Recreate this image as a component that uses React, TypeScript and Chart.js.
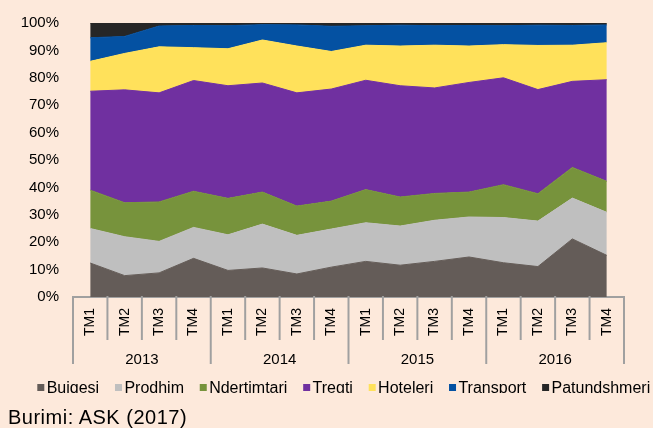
import React, { useEffect, useRef } from 'react';
import { Chart, registerables } from 'chart.js';

Chart.register(...registerables);

const categories = [
  'TM1', 'TM2', 'TM3', 'TM4',
  'TM1', 'TM2', 'TM3', 'TM4',
  'TM1', 'TM2', 'TM3', 'TM4',
  'TM1', 'TM2', 'TM3', 'TM4',
];
const years = ['2013', '2014', '2015', '2016'];
const yTicks = [0, 10, 20, 30, 40, 50, 60, 70, 80, 90, 100];

const bujqesi = [12.4, 7.8, 8.8, 14.1, 9.7, 10.6, 8.4, 10.9, 13.0, 11.6, 13.0, 14.6, 12.5, 11.1, 21.2, 15.2];
const prodhim = [12.6, 14.2, 11.5, 11.3, 13.0, 16.0, 14.1, 13.9, 14.1, 14.3, 15.0, 14.6, 16.5, 16.6, 14.9, 15.7];
const ndertimtari = [14.0, 12.4, 14.4, 13.2, 13.3, 11.7, 10.7, 10.2, 12.1, 10.6, 9.8, 9.1, 12.0, 10.0, 11.2, 11.3];
const tregti = [36.1, 41.2, 39.8, 40.4, 41.1, 39.8, 41.3, 40.9, 39.9, 40.6, 38.5, 40.0, 39.0, 38.0, 31.4, 37.1];
const hoteleri = [10.9, 13.3, 16.8, 12.0, 13.5, 15.7, 17.1, 13.7, 12.8, 14.5, 15.6, 13.3, 12.1, 16.1, 13.2, 13.5];
const transport = [8.6, 6.2, 7.6, 8.1, 8.4, 5.6, 7.7, 9.2, 7.1, 7.6, 7.1, 7.5, 6.9, 7.4, 7.2, 6.5];
const patundshmeri = [5.4, 4.9, 1.1, 0.9, 1.0, 0.6, 0.7, 1.2, 1.0, 0.8, 1.0, 0.9, 1.0, 0.8, 0.9, 0.7];

const seriesNames = ['Bujqesi', 'Prodhim', 'Ndertimtari', 'Tregti', 'Hoteleri', 'Transport', 'Patundshmeri'];
const seriesValues = [bujqesi, prodhim, ndertimtari, tregti, hoteleri, transport, patundshmeri];
const seriesColors = ['#645C58', '#BFBFBF', '#77933C', '#7030A0', '#FFE15B', '#0451A2', '#262626'];

const sourceText = 'Burimi: ASK (2017)';

const BG = '#FDE9DB';
const FONT = '"Liberation Sans", Arial, Helvetica, sans-serif';
const AXIS_GRAY = '#A0A0A0';

const groupAxisPlugin = {
  id: 'groupAxis',
  afterDraw(chart: any) {
    const ctx = chart.ctx;
    const xs = chart.scales.x;
    const y0 = chart.chartArea.bottom;
    const n = chart.data.labels.length;
    const w = (xs.right - xs.left) / n;
    const perYear = n / years.length;
    ctx.save();
    ctx.strokeStyle = AXIS_GRAY;
    ctx.lineWidth = 2;
    for (let i = 0; i <= n; i++) {
      const px = xs.left + i * w;
      const long = i % perYear === 0;
      ctx.beginPath();
      ctx.moveTo(px, y0 - 1);
      ctx.lineTo(px, y0 + (long ? 67 : 43));
      ctx.stroke();
    }
    ctx.fillStyle = '#000';
    ctx.font = `15px ${FONT}`;
    ctx.textAlign = 'center';
    ctx.textBaseline = 'alphabetic';
    years.forEach((yr, k) => {
      const cx = xs.left + (k * perYear + perYear / 2) * w;
      ctx.fillText(yr, cx, y0 + 67);
    });
    ctx.restore();
  },
};

const legendPlugin = {
  id: 'customLegend',
  afterDraw(chart: any) {
    const ctx = chart.ctx;
    ctx.save();
    ctx.beginPath();
    ctx.rect(0, 0, chart.width, 393);
    ctx.clip();
    ctx.font = `16px ${FONT}`;
    ctx.textAlign = 'left';
    ctx.textBaseline = 'alphabetic';
    let px = 37.3;
    chart.data.datasets.forEach((ds: any) => {
      ctx.fillStyle = ds.backgroundColor;
      ctx.fillRect(px, 384, 7, 7);
      ctx.fillStyle = '#000';
      ctx.fillText(ds.label, px + 9.4, 392.5);
      px += 9.4 + ctx.measureText(ds.label).width + 15.8;
    });
    ctx.restore();
  },
};

export default function App() {
  const canvasRef = useRef<HTMLCanvasElement | null>(null);

  useEffect(() => {
    if (!canvasRef.current) return;
    Chart.defaults.font.family = FONT;
    const chart = new Chart(canvasRef.current, {
      type: 'line',
      data: {
        labels: categories,
        datasets: seriesNames.map((name, i) => ({
          label: name,
          data: seriesValues[i],
          backgroundColor: seriesColors[i],
          borderColor: seriesColors[i],
          borderWidth: 1,
          pointRadius: 0,
          pointHoverRadius: 0,
          tension: 0,
          fill: i === 0 ? 'origin' : '-1',
        })),
      },
      options: {
        responsive: false,
        animation: false,
        devicePixelRatio: 1,
        layout: { padding: { left: 0, right: 29, top: 20, bottom: 0 } },
        plugins: {
          legend: { display: false },
          tooltip: { enabled: false },
        },
        scales: {
          x: {
            type: 'category',
            offset: true,
            grid: { display: false, drawTicks: false },
            border: { display: true, color: AXIS_GRAY, width: 2 },
            ticks: {
              autoSkip: false,
              minRotation: 90,
              maxRotation: 90,
              padding: 11,
              color: '#000',
              font: { size: 14 },
            },
            afterFit(s: any) {
              s.height = 131;
            },
          },
          y: {
            stacked: true,
            min: yTicks[0],
            max: yTicks[yTicks.length - 1],
            grid: { display: false, drawTicks: false },
            border: { display: false },
            ticks: {
              stepSize: yTicks[1] - yTicks[0],
              padding: 14,
              color: '#000',
              font: { size: 15 },
              callback: (v: any) => `${v}%`,
            },
            afterFit(s: any) {
              s.width = 73;
            },
          },
        },
      } as any,
      plugins: [groupAxisPlugin, legendPlugin],
    });
    return () => chart.destroy();
  }, []);

  return (
    <div
      style={{
        position: 'fixed',
        left: 0,
        top: 0,
        width: 653,
        height: 428,
        background: BG,
        overflow: 'hidden',
      }}
    >
      <canvas
        ref={canvasRef}
        width={653}
        height={428}
        style={{ position: 'absolute', left: 0, top: 0, width: 653, height: 428, display: 'block' }}
      />
      <div
        style={{
          position: 'absolute',
          left: 8,
          top: 407,
          fontFamily: FONT,
          fontSize: 20,
          lineHeight: '20px',
          letterSpacing: '0.5px',
          color: '#000',
          whiteSpace: 'nowrap',
        }}
      >
        {sourceText}
      </div>
    </div>
  );
}
